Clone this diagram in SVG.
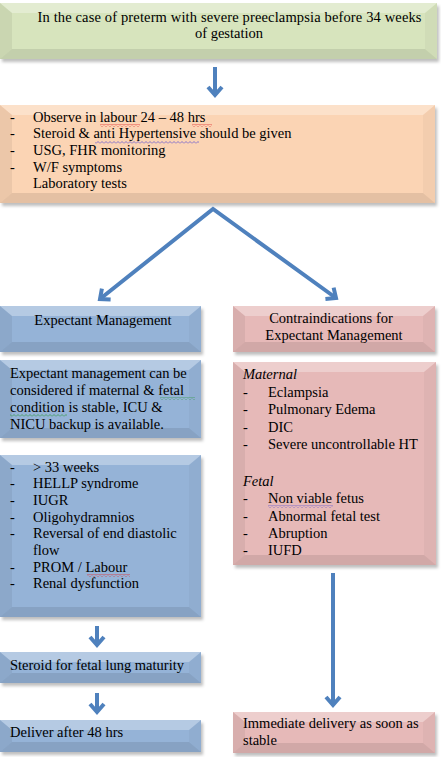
<svg xmlns="http://www.w3.org/2000/svg" width="441" height="757" viewBox="0 0 441 757" font-family="'Liberation Serif', 'Times New Roman', serif">
<style>
text{font-family:"Liberation Serif","Times New Roman",serif;font-size:14.5px;fill:#000}
.it{font-style:italic}
.green{fill:#d7e4bd}
.peach{fill:#fbd4b4}
.blue{fill:#95b3d7}
.pink{fill:#e6b9b8}
.bt{fill:#fff;fill-opacity:.3}
.bl{fill:#000;fill-opacity:.06}
.br{fill:#000;fill-opacity:.03}
.bb{fill:#000;fill-opacity:.09}
.con{fill:none;stroke:#4f81bd;stroke-width:4;stroke-linejoin:miter}
.sr{fill:url(#sqr)}
.sb{fill:url(#sqb)}
.sg{fill:url(#sqg)}
</style>
<defs>
<filter id="sh" x="-5%" y="-5%" width="115%" height="125%">
<feDropShadow dx="2" dy="3" stdDeviation="1.5" flood-color="#000" flood-opacity="0.25"/>
</filter>
<marker id="ah" viewBox="-12 -10 16 20" markerWidth="16" markerHeight="20" refX="0" refY="0" orient="auto-start-reverse" markerUnits="userSpaceOnUse">
<path d="M-8,-7 L0,0 L-8,7" fill="none" stroke="#4f81bd" stroke-width="4"/>
</marker>
<pattern id="sqr" width="4" height="3" patternUnits="userSpaceOnUse"><path d="M0,2.5 L2,0.5 L4,2.5" fill="none" stroke="#e03030" stroke-width="0.8"/></pattern>
<pattern id="sqb" width="4" height="3" patternUnits="userSpaceOnUse"><path d="M0,2.5 L2,0.5 L4,2.5" fill="none" stroke="#6a5acd" stroke-width="0.8"/></pattern>
<pattern id="sqg" width="4" height="3" patternUnits="userSpaceOnUse"><path d="M0,2.5 L2,0.5 L4,2.5" fill="none" stroke="#3a9a50" stroke-width="0.8"/></pattern>
</defs>

<g id="top">
<rect class="green" x="0" y="3" width="437" height="56" filter="url(#sh)"/>
<polygon class="bt" points="0,3 437,3 425,13 12,13"/>
<polygon class="bb" points="0,59 437,59 425,49 12,49"/>
<polygon class="bl" points="0,3 12,13 12,49 0,59"/>
<polygon class="br" points="437,3 425,13 425,49 437,59"/>
<text x="229.5" y="22" text-anchor="middle" textLength="384" lengthAdjust="spacing">In the case of preterm with severe preeclampsia before 34 weeks</text>
<text x="229" y="38" text-anchor="middle">of gestation</text>
</g>

<g id="observe">
<rect class="peach" x="0" y="105" width="435" height="98" filter="url(#sh)"/>
<polygon class="bt" points="0,105 435,105 423,115 12,115"/>
<polygon class="bb" points="0,203 435,203 423,193 12,193"/>
<polygon class="bl" points="0,105 12,115 12,193 0,203"/>
<polygon class="br" points="435,105 423,115 423,193 435,203"/>
<text x="10" y="122">-</text><text x="33" y="122">Observe in labour 24 – 48 hrs</text>
<text x="10" y="138">-</text><text x="33" y="138">Steroid &amp; anti Hypertensive should be given</text>
<text x="10" y="155">-</text><text x="33" y="155">USG, FHR monitoring</text>
<text x="10" y="172">-</text><text x="33" y="172">W/F  symptoms</text>
<text x="33" y="188">Laboratory tests</text>
<rect class="sr" x="100" y="124" width="40" height="3"/>
<rect class="sr" x="192" y="124" width="20" height="3"/>
<rect class="sb" x="95" y="141" width="104" height="3"/>
</g>

<g id="expectant">
<rect class="blue" x="0" y="306" width="201" height="46" filter="url(#sh)"/>
<polygon class="bt" points="0,306 201,306 189,316 12,316"/>
<polygon class="bb" points="0,352 201,352 189,342 12,342"/>
<polygon class="bl" points="0,306 12,316 12,342 0,352"/>
<polygon class="br" points="201,306 189,316 189,342 201,352"/>
<text x="103" y="325" text-anchor="middle">Expectant Management</text>
</g>

<g id="contra">
<rect class="pink" x="233" y="306" width="202" height="46" filter="url(#sh)"/>
<polygon class="bt" points="233,306 435,306 423,316 245,316"/>
<polygon class="bb" points="233,352 435,352 423,342 245,342"/>
<polygon class="bl" points="233,306 245,316 245,342 233,352"/>
<polygon class="br" points="435,306 423,316 423,342 435,352"/>
<text x="331" y="323" text-anchor="middle">Contraindications for</text>
<text x="334" y="340" text-anchor="middle">Expectant Management</text>
</g>

<g id="em-cond">
<rect class="blue" x="0" y="360" width="201" height="78" filter="url(#sh)"/>
<polygon class="bt" points="0,360 201,360 189,370 12,370"/>
<polygon class="bb" points="0,438 201,438 189,428 12,428"/>
<polygon class="bl" points="0,360 12,370 12,428 0,438"/>
<polygon class="br" points="201,360 189,370 189,428 201,438"/>
<text x="10" y="378">Expectant management can be</text>
<text x="10" y="395">considered if maternal &amp; fetal</text>
<text x="10" y="412">condition is stable, ICU &amp;</text>
<text x="10" y="429">NICU backup is available.</text>
<rect class="sg" x="160" y="397" width="35" height="3"/>
<rect class="sg" x="10" y="414" width="57" height="3"/>
</g>

<g id="em-list">
<rect class="blue" x="0" y="455" width="201" height="162" filter="url(#sh)"/>
<polygon class="bt" points="0,455 201,455 189,465 12,465"/>
<polygon class="bb" points="0,617 201,617 189,607 12,607"/>
<polygon class="bl" points="0,455 12,465 12,607 0,617"/>
<polygon class="br" points="201,455 189,465 189,607 201,617"/>
<text x="10" y="472">-</text><text x="33" y="472">&gt; 33 weeks</text>
<text x="10" y="488">-</text><text x="33" y="488">HELLP  syndrome</text>
<text x="10" y="505">-</text><text x="33" y="505">IUGR</text>
<text x="10" y="522">-</text><text x="33" y="522">Oligohydramnios</text>
<text x="10" y="538">-</text><text x="33" y="538">Reversal of end diastolic</text>
<text x="33" y="555">flow</text>
<text x="10" y="572">-</text><text x="33" y="572">PROM / Labour</text>
<text x="10" y="588">-</text><text x="33" y="588">Renal dysfunction</text>
<rect class="sr" x="87" y="574" width="43" height="3"/>
</g>

<g id="ci-list">
<rect class="pink" x="233" y="362" width="203" height="203" filter="url(#sh)"/>
<polygon class="bt" points="233,362 436,362 424,372 245,372"/>
<polygon class="bb" points="233,565 436,565 424,555 245,555"/>
<polygon class="bl" points="233,362 245,372 245,555 233,565"/>
<polygon class="br" points="436,362 424,372 424,555 436,565"/>
<text class="it" x="243" y="379">Maternal</text>
<text x="243" y="397">-</text><text x="268" y="397">Eclampsia</text>
<text x="243" y="414">-</text><text x="268" y="414">Pulmonary Edema</text>
<text x="243" y="432">-</text><text x="268" y="432">DIC</text>
<text x="243" y="449">-</text><text x="268" y="449">Severe uncontrollable HT</text>
<text class="it" x="243" y="486">Fetal</text>
<text x="243" y="503">-</text><text x="268" y="503">Non viable fetus</text>
<text x="243" y="521">-</text><text x="268" y="521">Abnormal fetal test</text>
<text x="243" y="538">-</text><text x="268" y="538">Abruption</text>
<text x="243" y="555">-</text><text x="268" y="555">IUFD</text>
<rect class="sb" x="268" y="505" width="65" height="3"/>
</g>

<g id="steroid">
<rect class="blue" x="0" y="652" width="201" height="31" filter="url(#sh)"/>
<polygon class="bt" points="0,652 201,652 189,662 12,662"/>
<polygon class="bb" points="0,683 201,683 189,673 12,673"/>
<polygon class="bl" points="0,652 12,662 12,673 0,683"/>
<polygon class="br" points="201,652 189,662 189,673 201,683"/>
<text x="10" y="670">Steroid for fetal lung maturity</text>
</g>

<g id="deliver">
<rect class="blue" x="0" y="720" width="201" height="32" filter="url(#sh)"/>
<polygon class="bt" points="0,720 201,720 189,730 12,730"/>
<polygon class="bb" points="0,752 201,752 189,742 12,742"/>
<polygon class="bl" points="0,720 12,730 12,742 0,752"/>
<polygon class="br" points="201,720 189,730 189,742 201,752"/>
<text x="10" y="737">Deliver after 48 hrs</text>
</g>

<g id="immediate">
<rect class="pink" x="233" y="712" width="202" height="41" filter="url(#sh)"/>
<polygon class="bt" points="233,712 435,712 423,722 245,722"/>
<polygon class="bb" points="233,753 435,753 423,743 245,743"/>
<polygon class="bl" points="233,712 245,722 245,743 233,753"/>
<polygon class="br" points="435,712 423,722 423,743 435,753"/>
<text x="243" y="728">Immediate delivery as soon as</text>
<text x="243" y="745">stable</text>
</g>

<g id="connectors">
<path class="con" d="M215,67 L215,95" marker-end="url(#ah)"/>
<path class="con" d="M100,299 L213,209 L336,298" marker-start="url(#ah)" marker-end="url(#ah)"/>
<path class="con" d="M333,573 L333,705" stroke-width="3.5" marker-end="url(#ah)"/>
<path class="con" d="M97,626 L97,645" marker-end="url(#ah)"/>
<path class="con" d="M97,693 L97,712" marker-end="url(#ah)"/>
</g>
</svg>
